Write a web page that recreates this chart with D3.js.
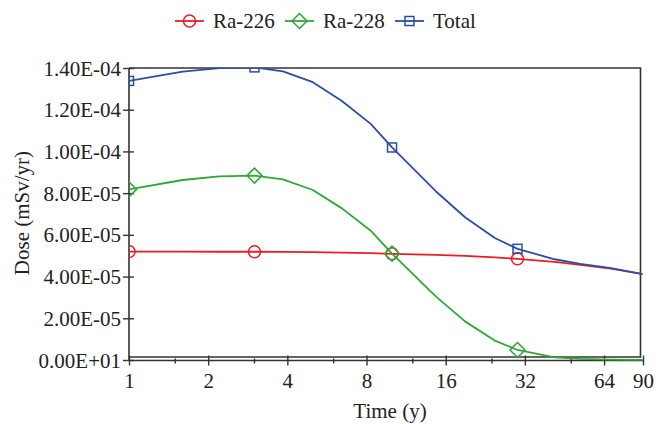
<!DOCTYPE html>
<html>
<head>
<meta charset="utf-8">
<script src="https://cdn.jsdelivr.net/npm/d3@7"></script>
<style>
  html, body { margin: 0; padding: 0; background: #fff; }
  svg { display: block; }
  text { font-family: "Liberation Serif", "Times New Roman", serif; fill: #222; }
</style>
</head>
<body>
<svg id="chart" width="656" height="424"></svg>
<script>
// Time grid (years) and dose per nuclide (mSv/yr)
const times  = [1, 1.6, 2.2, 3, 3.85, 5, 6.45, 8.3, 10, 14.7, 19, 24.6, 30, 41.5, 52, 68, 90];
const ra226  = [5.20e-5, 5.20e-5, 5.19e-5, 5.19e-5, 5.18e-5, 5.17e-5, 5.15e-5, 5.12e-5, 5.09e-5, 5.04e-5, 4.99e-5, 4.92e-5, 4.85e-5, 4.70e-5, 4.56e-5, 4.38e-5, 4.12e-5];
const ra228  = [8.18e-5, 8.63e-5, 8.80e-5, 8.84e-5, 8.66e-5, 8.15e-5, 7.27e-5, 6.20e-5, 5.10e-5, 3.04e-5, 1.84e-5, 0.93e-5, 0.48e-5, 0.13e-5, 0.05e-5, 0.015e-5, 0.004e-5];
const total  = [13.38e-5, 13.83e-5, 13.99e-5, 14.03e-5, 13.84e-5, 13.32e-5, 12.42e-5, 11.32e-5, 10.19e-5, 8.08e-5, 6.83e-5, 5.85e-5, 5.33e-5, 4.83e-5, 4.61e-5, 4.40e-5, 4.12e-5];
const markerTimes = [1, 3, 10, 30];

const seriesNames = ["Ra-226", "Ra-228", "Total"];
const xTickValues = [1, 2, 4, 8, 16, 32, 64, 90];
const xMinorTicks = [1.5, 3, 6, 12, 24, 48];
const yTickValues = [0, 2e-5, 4e-5, 6e-5, 8e-5, 1e-4, 1.2e-4, 1.4e-4];
const yTickLabels = ["0.00E+01", "2.00E-05", "4.00E-05", "6.00E-05", "8.00E-05", "1.00E-04", "1.20E-04", "1.40E-04"];

const series = [
  { name: seriesNames[0], values: ra226, color: "#ec1c24", shape: "circle" },
  { name: seriesNames[1], values: ra228, color: "#2ea836", shape: "diamond" },
  { name: seriesNames[2], values: total, color: "#2a4ea6", shape: "square" }
];

const svg = d3.select("#chart");
const axisColor = "#333";
const plotLeft = 129, plotRight = 643, plotTop = 68, plotBottom = 360;
const boxRight = 640.5, boxBottom = 357;

const x = d3.scaleLog().domain([1, 90]).range([plotLeft, plotRight]);
const y = d3.scaleLinear().domain([0, 1.4e-4]).range([plotBottom, plotTop]);

// clip region for the plotted data
svg.append("defs").append("clipPath").attr("id", "plotClip")
  .append("rect").attr("x", plotLeft).attr("y", plotTop)
  .attr("width", boxRight - plotLeft + 2).attr("height", plotBottom - plotTop + 1);

// plot frame (top, right and bottom edges of the box)
svg.append("path")
  .attr("d", `M${plotLeft},${plotTop}H${boxRight}V${boxBottom}H${plotLeft}`)
  .attr("fill", "none").attr("stroke", axisColor).attr("stroke-width", 1.6);

// y axis
const yAxis = d3.axisLeft(y).tickValues(yTickValues).tickFormat((d, i) => yTickLabels[i]).tickSize(6).tickPadding(2);
const gy = svg.append("g").attr("transform", `translate(${plotLeft},0)`).call(yAxis);
gy.select(".domain").attr("d", `M0,${plotTop}V${plotBottom + 1}`).attr("stroke", axisColor).attr("stroke-width", 1.6);
gy.selectAll(".tick line").attr("x1", 5).attr("x2", -6).attr("stroke", axisColor).attr("stroke-width", 1.4);
gy.selectAll(".tick text").attr("font-size", 21).attr("fill", "#222").attr("dy", "0.34em")
  .style("font-family", "'Liberation Serif', 'Times New Roman', serif");

// x axis
const xAxis = d3.axisBottom(x).tickValues(xTickValues).tickFormat(d3.format("d")).tickSize(5).tickPadding(8);
const gx = svg.append("g").attr("transform", `translate(0,${plotBottom + 0.5})`).call(xAxis);
gx.select(".domain").attr("d", `M${plotLeft},0H${plotRight + 1}`).attr("stroke", axisColor).attr("stroke-width", 1.6);
gx.selectAll(".tick line").attr("y1", -5).attr("y2", 5).attr("stroke", axisColor).attr("stroke-width", 1.4);
gx.selectAll(".tick text").attr("font-size", 21).attr("fill", "#222")
  .style("font-family", "'Liberation Serif', 'Times New Roman', serif");
gx.selectAll(".minor").data(xMinorTicks).enter().append("line")
  .attr("class", "minor")
  .attr("x1", d => x(d)).attr("x2", d => x(d))
  .attr("y1", -2).attr("y2", 3)
  .attr("stroke", axisColor).attr("stroke-width", 1.4);

// axis titles
svg.append("text").attr("x", 390).attr("y", 418).attr("text-anchor", "middle")
  .attr("font-size", 21).text("Time (y)");
svg.append("text").attr("transform", "translate(29,213) rotate(-90)").attr("text-anchor", "middle")
  .attr("font-size", 21).text("Dose (mSv/yr)");

// marker drawing
function drawMarker(g, shape, cx, cy, color) {
  if (shape === "circle") {
    g.append("circle").attr("cx", cx).attr("cy", cy).attr("r", 6)
      .attr("fill", "none").attr("stroke", color).attr("stroke-width", 1.5);
  } else if (shape === "diamond") {
    const r = 7.5;
    g.append("path").attr("d", `M${cx},${cy - r}L${cx + r},${cy}L${cx},${cy + r}L${cx - r},${cy}Z`)
      .attr("fill", "none").attr("stroke", color).attr("stroke-width", 1.5);
  } else {
    const h = 4.5;
    g.append("rect").attr("x", cx - h).attr("y", cy - h).attr("width", 2 * h).attr("height", 2 * h)
      .attr("fill", "none").attr("stroke", color).attr("stroke-width", 1.5);
  }
}

// series lines and markers
const plot = svg.append("g").attr("clip-path", "url(#plotClip)");
const line = d3.line().x(d => x(d[0])).y(d => y(d[1]));
series.forEach(s => {
  const pts = times.map((t, i) => [t, s.values[i]]);
  plot.append("path").datum(pts).attr("d", line)
    .attr("fill", "none").attr("stroke", s.color).attr("stroke-width", 1.8)
    .attr("stroke-linejoin", "round");
  markerTimes.forEach(t => {
    const i = times.indexOf(t);
    drawMarker(plot, s.shape, x(t), y(s.values[i]), s.color);
  });
});

// legend
const legendItems = [
  { lx: 175, tx: 213 },
  { lx: 285, tx: 323 },
  { lx: 395, tx: 433 }
];
const legend = svg.append("g");
series.forEach((s, i) => {
  const p = legendItems[i];
  const ly = 21;
  legend.append("line").attr("x1", p.lx).attr("x2", p.lx + 29).attr("y1", ly).attr("y2", ly)
    .attr("stroke", s.color).attr("stroke-width", 1.8);
  drawMarker(legend, s.shape, p.lx + 14.5, ly, s.color);
  legend.append("text").attr("x", p.tx).attr("y", ly + 7).attr("font-size", 21).text(s.name);
});
</script>
</body>
</html>
